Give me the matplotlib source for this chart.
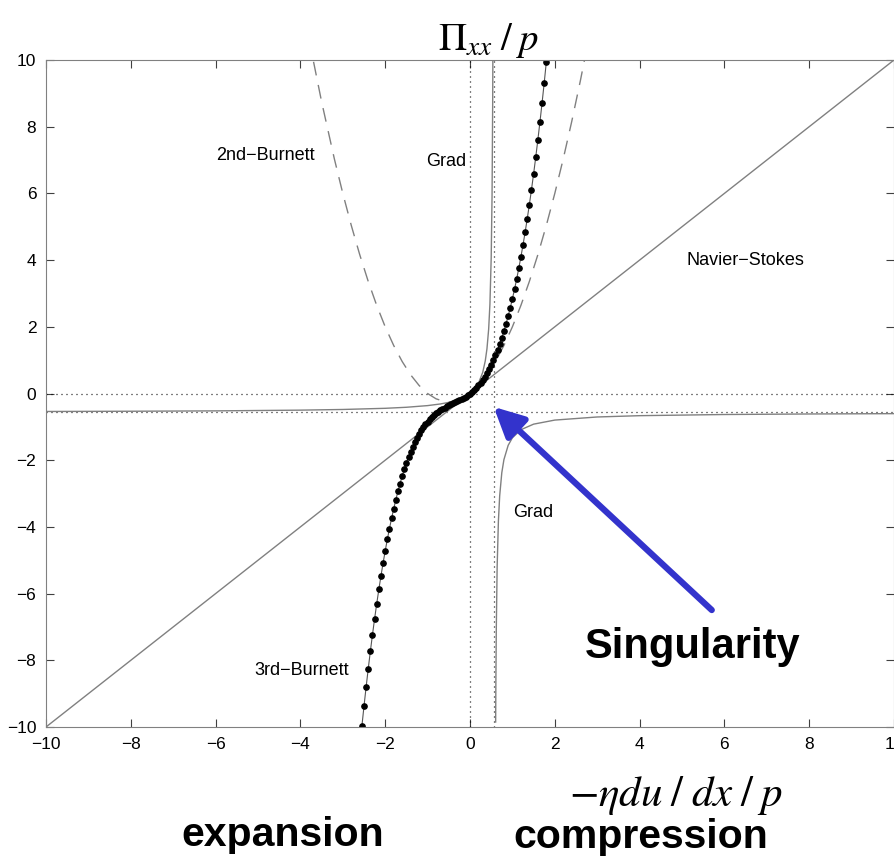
import numpy as np
import matplotlib.pyplot as plt

plt.rcParams['font.family'] = ['Liberation Sans', 'DejaVu Sans']
plt.rcParams['mathtext.fontset'] = 'stix'

# Navier-Stokes
ns_x = [-10, 10]
ns_y = [-10, 10]

# Grad, two branches (singularity near x=0.57)
grad_left_x = [-10, -8, -6, -4, -3, -2, -1.5, -1, -0.7, -0.5, -0.3, -0.15, 0,
               0.1, 0.2, 0.3, 0.36, 0.4, 0.44, 0.47, 0.5, 0.52, 0.535, 0.54]
grad_left_y = [-0.539, -0.532, -0.521, -0.499, -0.479, -0.444, -0.413, -0.363, -0.314,
               -0.266, -0.197, -0.119, 0, 0.121, 0.308, 0.633, 0.977, 1.341, 1.929,
               2.679, 4.07, 5.93, 8.71, 10.26]
grad_right_x = [0.605, 0.61, 0.62, 0.64, 0.67, 0.7, 0.75, 0.8, 0.9, 1.0, 1.2, 1.5,
                2, 3, 4, 6, 8, 10]
grad_right_y = [-9.85, -8.69, -7.07, -5.21, -3.82, -3.07, -2.375, -1.983, -1.555,
                -1.326, -1.086, -0.919, -0.797, -0.704, -0.665, -0.630, -0.614, -0.604]

# 2nd Burnett (dashed)
b2_x = [-3.8, -3.5, -3.2, -3.0, -2.8, -2.6, -2.4, -2.2, -2.0, -1.8, -1.6, -1.4, -1.2,
        -1.0, -0.8, -0.6, -0.5, -0.4, -0.2, 0, 0.2, 0.4, 0.6, 0.8, 1.0, 1.2, 1.4, 1.6,
        1.8, 2.0, 2.2, 2.4, 2.6, 2.8]
b2_y = [10.64, 8.75, 7.04, 6.0, 5.04, 4.16, 3.36, 2.64, 2.0, 1.44, 0.96, 0.56, 0.24,
        0, -0.16, -0.24, -0.25, -0.24, -0.16, 0, 0.24, 0.56, 0.96, 1.44, 2.0, 2.64, 3.36,
        4.16, 5.04, 6.0, 7.04, 8.16, 9.36, 10.64]

# 3rd Burnett (dotted with markers)
b3_x = [-2.60, -2.55, -2.50, -2.45, -2.40, -2.35, -2.30, -2.25, -2.20, -2.15, -2.10,
        -2.05, -2.00, -1.95, -1.90, -1.85, -1.80, -1.75, -1.70, -1.65, -1.60, -1.55,
        -1.50, -1.45, -1.40, -1.35, -1.30, -1.25, -1.20, -1.15, -1.10, -1.05, -1.00,
        -0.95, -0.90, -0.85, -0.80, -0.75, -0.70, -0.65, -0.60, -0.55, -0.50, -0.45,
        -0.40, -0.35, -0.30, -0.25, -0.20, -0.15, -0.10, -0.05, 0.00, 0.05, 0.10,
        0.15, 0.20, 0.25, 0.30, 0.35, 0.40, 0.45, 0.50, 0.55, 0.60, 0.65, 0.70, 0.75,
        0.80, 0.85, 0.90, 0.95, 1.00, 1.05, 1.10, 1.15, 1.20, 1.25, 1.30, 1.35, 1.40,
        1.45, 1.50, 1.55, 1.60, 1.65, 1.70, 1.75, 1.80, 1.85]
b3_y = [-10.604, -9.976, -9.375, -8.801, -8.252, -7.729, -7.230, -6.756, -6.304,
        -5.876, -5.469, -5.085, -4.720, -4.376, -4.052, -3.747, -3.459, -3.190,
        -2.937, -2.701, -2.481, -2.276, -2.085, -1.909, -1.745, -1.595, -1.455,
        -1.329, -1.212, -1.105, -1.008, -0.920, -0.840, -0.768, -0.702, -0.643,
        -0.590, -0.542, -0.498, -0.458, -0.421, -0.387, -0.355, -0.324, -0.294,
        -0.264, -0.233, -0.201, -0.167, -0.130, -0.091, -0.048, 0.0, 0.053, 0.111,
        0.175, 0.247, 0.326, 0.413, 0.509, 0.614, 0.729, 0.855, 0.993, 1.141, 1.303,
        1.478, 1.667, 1.870, 2.089, 2.322, 2.573, 2.840, 3.125, 3.428, 3.751, 4.092,
        4.454, 4.835, 5.240, 5.665, 6.114, 6.585, 7.081, 7.601, 8.146, 8.717, 9.314,
        9.939, 10.591]

sing_x = 0.57
sing_y = -0.55

fig = plt.figure(figsize=(8.95, 8.65), dpi=100)
ax = fig.add_axes([46/895, 1-727/865, 848/895, 667/865])

dots = (0, (0.8, 3.2))
ax.axvline(0, color='k', lw=0.9, ls=dots)
ax.axvline(sing_x, color='k', lw=0.9, ls=dots)
ax.axhline(0, color='k', lw=0.9, ls=dots)
ax.axhline(sing_y, color='k', lw=0.9, ls=dots)

ax.plot(ns_x, ns_y, color='#808080', lw=1)
ax.plot(grad_left_x, grad_left_y, color='#808080', lw=1)
ax.plot(grad_right_x, grad_right_y, color='#808080', lw=1)
ax.plot(b2_x, b2_y, color='#808080', lw=1, dashes=(10, 7))
ax.plot(b3_x, b3_y, color='#555555', lw=0.8)
ax.plot(b3_x, b3_y, ls='none', marker='o', ms=3.8, color='k')

ax.text(-4.83, 7.15, '2nd\u2212Burnett', fontsize=13, ha='center', va='center')
ax.text(-0.57, 6.97, 'Grad', fontsize=13, ha='center', va='center')
ax.text(6.49, 4.0, 'Navier\u2212Stokes', fontsize=13, ha='center', va='center')
ax.text(1.49, -3.56, 'Grad', fontsize=13, ha='center', va='center')
ax.text(-3.96, -8.31, '3rd\u2212Burnett', fontsize=13, ha='center', va='center')

ax.annotate('', xy=(0.51, -0.345), xytext=(5.75, -6.55),
            arrowprops=dict(arrowstyle='-|>,head_length=0.6,head_width=0.3',
                            color='#3333cc', lw=4.5, mutation_scale=30))
ax.text(5.26, -7.93, 'Singularity', fontsize=30, fontweight='bold',
        ha='center', va='baseline')

ax.set_xlim(-10, 10)
ax.set_ylim(-10, 10)
ax.set_xticks(np.arange(-10, 11, 2))
ax.set_yticks(np.arange(-10, 11, 2))
ax.tick_params(direction='in', length=6, top=True, right=True, labelsize=12.5,
               color='#404040', pad=7)
for s in ax.spines.values():
    s.set_color('#808080')

fig.text(0.546, 0.942, r'$\Pi_{xx}\;/\;p$', fontsize=28, ha='center', va='baseline')
fig.text(0.755, 0.068, r'$-\eta du\;/\;dx\;/\;p$', fontsize=31, ha='center', va='baseline')
fig.text(0.316, 0.022, 'expansion', fontsize=29.5, fontweight='bold', ha='center', va='baseline')
fig.text(0.716, 0.020, 'compression', fontsize=29.5, fontweight='bold', ha='center', va='baseline')

fig.savefig('out.png', dpi=100)
